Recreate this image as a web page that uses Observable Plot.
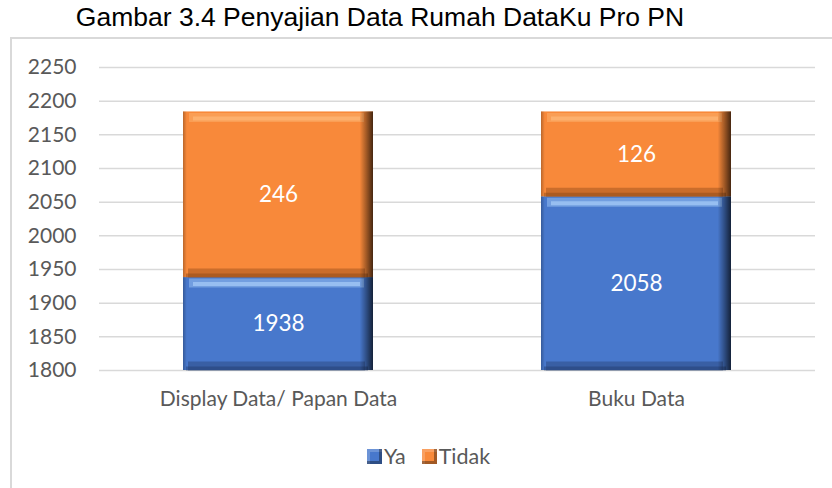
<!DOCTYPE html>
<html>
<head>
<meta charset="utf-8">
<script src="https://cdn.jsdelivr.net/npm/d3@7"></script>
<script src="https://cdn.jsdelivr.net/npm/@observablehq/plot@0.6"></script>
<style>
  html, body { margin: 0; padding: 0; background: #fff; }
  body { width: 832px; height: 488px; overflow: hidden; position: relative; }
  #title { position: absolute; left: 0; top: 2px; width: 760px; text-align: center;
           font-family: "Liberation Sans", Arial, sans-serif; font-size: 26.5px; line-height: 30px; color: #000; white-space: nowrap; }
  #box { position: absolute; left: 10px; top: 37px; width: 850px; height: 480px;
         border: 2px solid #d9d9d9; box-sizing: border-box; }
  #chart { position: absolute; left: 0; top: 37px; }
  #legend { position: absolute; left: 367px; top: 443px; display: flex; align-items: center;
            font-family: Lato, sans-serif; font-size: 21.5px; color: #595959; }
  .sw { width: 15px; height: 15px; display: inline-block; margin-right: 2px;
        box-shadow: inset -3px -3px 0 rgba(0,0,0,0.35), inset 3px 3px 0 rgba(255,255,255,0.2); }
  .item { display: flex; align-items: center; margin-right: 16px; }
</style>
</head>
<body>
<div id="title">Gambar 3.4 Penyajian Data Rumah DataKu Pro PN</div>
<div id="box"></div>
<div id="chart"></div>
<div id="legend"></div>
<script>
// ---- data ----
const categories = ["Display Data/ Papan Data", "Buku Data"];
const series = ["Ya", "Tidak"];
const ya = [1938, 2058];
const tidak = [246, 126];
const yTicks = [1800, 1850, 1900, 1950, 2000, 2050, 2100, 2150, 2200, 2250];

// ---- styles ----
const colors = {Ya: "#4878cc", Tidak: "#f8893a"};
const light = {Ya: "#a6ccf8", Tidak: "#fdb878"};
const dark = {Ya: "#22396a", Tidak: "#874416"};

const rows = [];
categories.forEach((c, i) => {
  rows.push({cat: c, series: "Ya", lo: yTicks[0], hi: ya[i], value: ya[i]});
  rows.push({cat: c, series: "Tidak", lo: ya[i], hi: ya[i] + tidak[i], value: tidak[i]});
});

const marks = [Plot.ruleY(yTicks, {stroke: "#d9d9d9", strokeWidth: 1.5})];
for (const s of series) {
  const f = d => d.series === s;
  marks.push(
    Plot.barY(rows, {filter: f, x: "cat", y1: "lo", y2: "hi", fill: colors[s]}),
    Plot.tickY(rows, {filter: f, x: "cat", y: "hi", dy: 5.5, stroke: light[s], strokeWidth: 9, insetLeft: 6, insetRight: 9, strokeOpacity: 0.45}),
    Plot.tickY(rows, {filter: f, x: "cat", y: "hi", dy: 6.5, stroke: light[s], strokeWidth: 4, insetLeft: 10, insetRight: 13, strokeOpacity: 0.7}),
    Plot.tickY(rows, {filter: f, x: "cat", y: "lo", dy: -4.5, stroke: dark[s], strokeWidth: 9, insetLeft: 5, insetRight: 8, strokeOpacity: 0.4}),
    Plot.tickY(rows, {filter: f, x: "cat", y: "lo", dy: -2, stroke: dark[s], strokeWidth: 4, insetLeft: 3, insetRight: 5, strokeOpacity: 0.45})
  );
}
marks.push(
  Plot.barY(rows, {x: "cat", y1: "lo", y2: "hi", fill: "url(#hshade)"}),
  Plot.text(rows, {x: "cat", y: d => (d.lo + d.hi) / 2, text: d => String(d.value), fill: "white", fontSize: 22.5})
);

const chart = Plot.plot({
  width: 832,
  height: 400,
  marginTop: 30,
  marginBottom: 67,
  marginLeft: 99,
  marginRight: 17,
  style: {fontFamily: "Lato, sans-serif", fontSize: "21px", color: "#595959", background: "transparent"},
  x: {domain: categories, paddingInner: 0.47, paddingOuter: 0.233, label: null, tickSize: 0, tickPadding: 21},
  y: {domain: [yTicks[0], yTicks[yTicks.length - 1]], ticks: yTicks, tickFormat: "d", label: null, tickSize: 0, tickPadding: 23},
  marks
});

const defs = d3.select(chart).insert("defs", ":first-child");
const g = defs.append("linearGradient").attr("id", "hshade").attr("x1", 0).attr("x2", 1).attr("y1", 0).attr("y2", 0);
[[0, "#000", 0.25], [0.02, "#000", 0.0], [0.93, "#000", 0.0], [0.965, "#000", 0.35], [1, "#000", 0.72]].forEach(([o, c, a]) => {
  g.append("stop").attr("offset", o).attr("stop-color", c).attr("stop-opacity", a);
});
document.getElementById("chart").appendChild(chart);

// legend
const legend = document.getElementById("legend");
for (const s of series) {
  const item = document.createElement("div");
  item.className = "item";
  const sw = document.createElement("span");
  sw.className = "sw";
  sw.style.background = colors[s];
  item.appendChild(sw);
  item.appendChild(document.createTextNode(s));
  legend.appendChild(item);
}
</script>
</body>
</html>
